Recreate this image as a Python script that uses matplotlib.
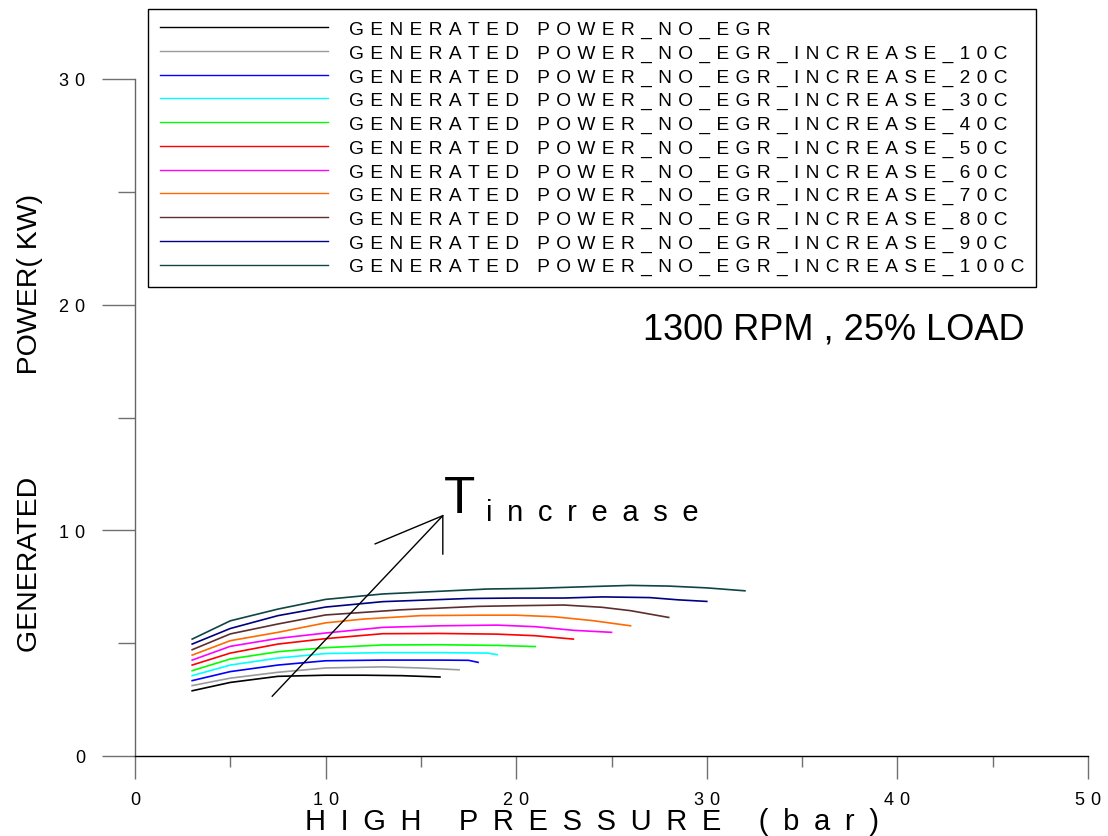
import matplotlib
matplotlib.use('Agg')
import matplotlib.pyplot as plt
from matplotlib.ticker import MultipleLocator, FuncFormatter

plt.rcParams['font.family'] = ['Liberation Sans', 'DejaVu Sans']

# data: high pressure (bar) vs generated power (kW)
p_0 = [3, 5, 7.5, 10, 12, 14, 16]
w_0 = [2.89, 3.26, 3.53, 3.58, 3.58, 3.56, 3.50]
p_10 = [3, 5, 7.5, 10, 13, 15, 17]
w_10 = [3.12, 3.45, 3.71, 3.90, 3.95, 3.90, 3.82]
p_20 = [3, 5, 7.5, 10, 13, 16, 17.5, 18]
w_20 = [3.34, 3.74, 4.03, 4.22, 4.25, 4.25, 4.24, 4.15]
p_30 = [3, 5, 7.5, 10, 13, 16, 18.5, 19]
w_30 = [3.56, 4.03, 4.34, 4.54, 4.58, 4.58, 4.56, 4.49]
p_40 = [3, 5, 7.5, 10, 13, 16, 19, 21]
w_40 = [3.78, 4.30, 4.62, 4.80, 4.92, 4.93, 4.90, 4.85]
p_50 = [3, 5, 7.5, 10, 13, 16, 19, 21, 23]
w_50 = [4.03, 4.56, 4.96, 5.20, 5.42, 5.43, 5.40, 5.33, 5.18]
p_60 = [3, 5, 7.5, 10, 13, 16, 19, 21, 23, 25]
w_60 = [4.25, 4.86, 5.21, 5.45, 5.70, 5.77, 5.80, 5.73, 5.57, 5.48]
p_70 = [3, 5, 7.5, 10, 12, 15, 18, 20, 22, 24, 26]
w_70 = [4.47, 5.11, 5.48, 5.90, 6.07, 6.22, 6.24, 6.24, 6.17, 6.00, 5.77]
p_80 = [3, 5, 7.5, 10, 14, 18, 20, 22.5, 24.5, 26, 28]
w_80 = [4.71, 5.41, 5.85, 6.25, 6.48, 6.63, 6.66, 6.69, 6.59, 6.44, 6.14]
p_90 = [3, 5, 7.5, 10, 13, 17.5, 20, 22.5, 24.5, 27, 28.5, 30]
w_90 = [4.96, 5.65, 6.22, 6.60, 6.84, 6.98, 7.00, 7.00, 7.05, 7.02, 6.92, 6.85]
p_100 = [3, 5, 7.5, 10, 13, 16.5, 18.5, 21, 24, 26, 28, 30, 32]
w_100 = [5.18, 5.99, 6.51, 6.94, 7.18, 7.32, 7.40, 7.43, 7.51, 7.56, 7.53, 7.45, 7.32]

labels = ['GENERATED POWER_NO_EGR'] + \
    ['GENERATED POWER_NO_EGR_INCREASE_%dC' % t for t in range(10, 101, 10)]
colors = ['#000000', '#9a9a9a', '#0000ff', '#00ffff', '#00ff00', '#ff0000',
          '#ff00ff', '#ff6a00', '#5e2e2e', '#000080', '#0f4545']
pressures = [p_0, p_10, p_20, p_30, p_40, p_50, p_60, p_70, p_80, p_90, p_100]
powers = [w_0, w_10, w_20, w_30, w_40, w_50, w_60, w_70, w_80, w_90, w_100]


def spaced(s, gap='\u2002'):
    # wide letter spacing like the original export
    return gap.join(s)


fig = plt.figure(figsize=(11.08, 8.37), dpi=100)
ax = fig.add_axes([135 / 1108, 1 - 757 / 837, (1088 - 135) / 1108, (757 - 80) / 837])

for p, w, c, lab in zip(pressures, powers, colors, labels):
    ax.plot(p, w, color=c, lw=1.2, label=spaced(lab, '\u2004'))

ax.set_xlim(0, 50)
ax.set_ylim(0, 30)
ax.xaxis.set_major_locator(MultipleLocator(10))
ax.xaxis.set_minor_locator(MultipleLocator(5))
ax.yaxis.set_major_locator(MultipleLocator(10))
ax.yaxis.set_minor_locator(MultipleLocator(5))
wide_fmt = FuncFormatter(lambda v, pos: spaced('%d' % v, '\u2004'))
ax.xaxis.set_major_formatter(wide_fmt)
ax.yaxis.set_major_formatter(wide_fmt)

for side in ['top', 'right']:
    ax.spines[side].set_visible(False)
ax.spines['left'].set_color('#666666')
ax.spines['bottom'].set_color('#000000')
ax.spines['left'].set_linewidth(1.0)
ax.spines['bottom'].set_linewidth(1.0)

ax.tick_params(axis='x', which='major', direction='out', length=16.5, width=1.0,
               color='#707070', labelsize=13, pad=9)
ax.tick_params(axis='x', which='minor', direction='out', length=8, width=1.0,
               color='#707070')
ax.tick_params(axis='y', which='major', direction='out', length=24, width=1.0,
               color='#707070', labelsize=13, pad=12)
ax.tick_params(axis='y', which='minor', direction='out', length=12, width=1.0,
               color='#707070')

ax.set_xlabel(spaced('HIGH PRESSURE (bar)'), fontsize=21)
ax.xaxis.set_label_coords((592 - 135) / 953, -0.076)
fig.text(30 / 1108, 1 - 423 / 837, 'GENERATED             POWER( KW)', fontsize=20.5,
         rotation=90, ha='center', va='center')

# temperature-increase arrow
arrow_x = [7.2, 16.15]
arrow_y = [2.65, 10.65]
ax.plot(arrow_x, arrow_y, color='black', lw=1.0)
ax.plot([12.6, 16.15, 16.15], [9.4, 10.65, 8.95], color='black', lw=1.0)
ax.text(16.2, 10.8, 'T', fontsize=37, ha='left', va='baseline')
ax.text(18.4, 10.45, spaced('increase'), fontsize=21, ha='left', va='baseline')

ax.text(26.65, 18.5, '1300 RPM , 25% LOAD', fontsize=26, ha='left', va='baseline')

leg = ax.legend(loc='upper left', bbox_to_anchor=(148 / 1108, 1 - 10 / 837),
                bbox_transform=fig.transFigure, fontsize=13.8, handlelength=8.8,
                handletextpad=1.1, labelspacing=0.32, borderpad=0.6,
                borderaxespad=0, fancybox=False, framealpha=1, edgecolor='black')
leg.get_frame().set_linewidth(1.0)
for h in leg.legend_handles:
    h.set_linewidth(1.0)

fig.savefig('out.png', dpi=100)
